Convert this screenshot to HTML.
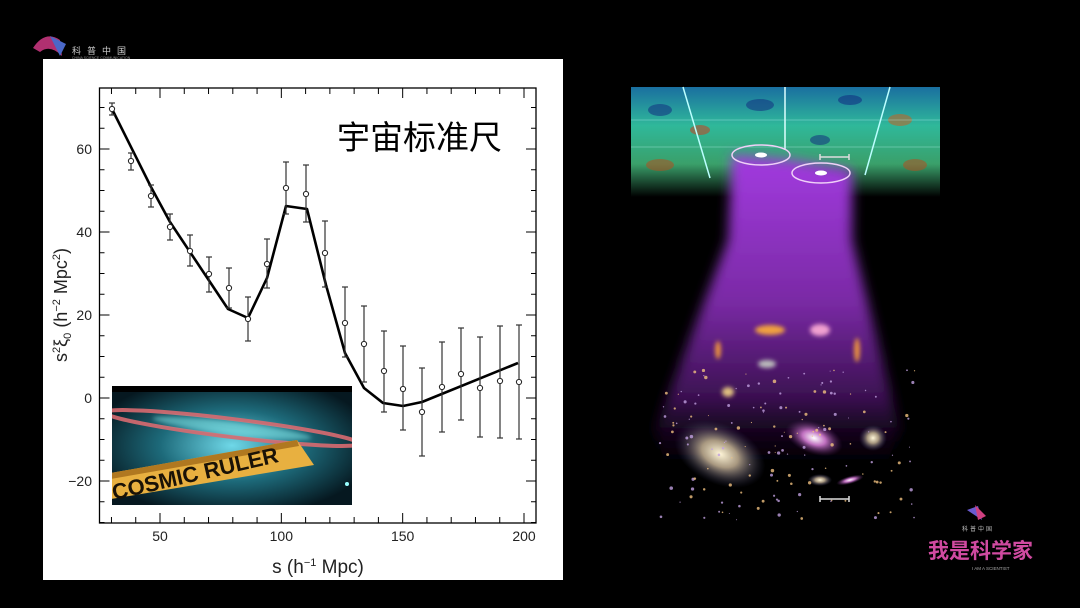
<!DOCTYPE html>
<html><head><meta charset="utf-8"><style>
html,body{margin:0;padding:0;background:#000;width:1080px;height:608px;overflow:hidden}
svg{display:block}
</style></head><body>
<svg id="s" width="1080" height="608" xmlns="http://www.w3.org/2000/svg" font-family="Liberation Sans, DejaVu Sans, sans-serif">
<defs>
<linearGradient id="cmb" x1="0" y1="0" x2="0" y2="1">
<stop offset="0" stop-color="#1a6fa0"/><stop offset="0.35" stop-color="#2fb89a"/><stop offset="0.7" stop-color="#3aa06a"/><stop offset="1" stop-color="#000" stop-opacity="1"/>
</linearGradient>
<linearGradient id="cone" x1="0" y1="0" x2="0" y2="1">
<stop offset="0" stop-color="#a23be0"/><stop offset="0.45" stop-color="#7a2aa5"/><stop offset="0.75" stop-color="#3a1050"/><stop offset="1" stop-color="#000" stop-opacity="0"/>
</linearGradient>
<filter id="bl"><feGaussianBlur stdDeviation="6"/></filter>
<filter id="bl2"><feGaussianBlur stdDeviation="2"/></filter>
<radialGradient id="gal" cx="0.5" cy="0.5" r="0.5"><stop offset="0" stop-color="#fff6d8"/><stop offset="0.4" stop-color="#a89880"/><stop offset="1" stop-color="#30305a" stop-opacity="0"/></radialGradient>
<radialGradient id="gal2" cx="0.5" cy="0.5" r="0.5"><stop offset="0" stop-color="#fff"/><stop offset="0.4" stop-color="#c070c0"/><stop offset="1" stop-color="#502060" stop-opacity="0"/></radialGradient>
<radialGradient id="sb" cx="0.5" cy="0.5" r="0.6"><stop offset="0" stop-color="#6fd8e8"/><stop offset="0.5" stop-color="#1d6a7a"/><stop offset="1" stop-color="#061820"/></radialGradient>
<clipPath id="ic"><rect x="112" y="386" width="240" height="119"/></clipPath>
</defs>
<path d="M33 48 Q45 30 60 40 L62 56 Q50 44 40 52 Z" fill="#b03070"/>
<path d="M50 36 L66 44 L60 56 Z" fill="#4a68c8"/>
<text x="72" y="54" font-size="9" fill="#ccc" font-family="Liberation Sans, Noto Sans CJK SC, sans-serif" letter-spacing="6">科普中国</text>
<text x="72" y="59" font-size="3.5" fill="#999">CHINA SCIENCE COMMUNICATION</text>
<rect x="43" y="59" width="520" height="521" fill="#fff"/>
<g id="plot"></g>
<g clip-path="url(#ic)">
<rect x="112" y="386" width="240" height="119" fill="url(#sb)"/>
<rect x="112" y="386" width="240" height="6" fill="#000"/>
<ellipse cx="232" cy="428" rx="128" ry="9" transform="rotate(7 232 428)" fill="none" stroke="#d86a70" stroke-width="4" opacity="0.9"/>
<ellipse cx="232" cy="428" rx="80" ry="6" transform="rotate(7 232 428)" fill="#8ee" opacity="0.5" filter="url(#bl2)"/>
<polygon points="105,474 297,440 314,465 105,500" fill="#e8b040"/>
<polygon points="105,474 297,440 299,446 105,480" fill="#b07820"/>
<text x="114" y="500" font-size="22" font-weight="bold" fill="#1a1206" transform="rotate(-13 114 500)">COSMIC RULER</text>
<circle cx="347" cy="484" r="2" fill="#9ff"/>
</g>
<text x="337" y="149" font-size="33" fill="#000" font-family="Liberation Sans, Noto Sans CJK SC, sans-serif">宇宙标准尺</text>
<rect x="631" y="87" width="309" height="436" fill="#000"/>
<rect x="631" y="87" width="309" height="110" fill="url(#cmb)"/>
<g opacity="0.55">
<ellipse cx="660" cy="110" rx="12" ry="6" fill="#123080"/><ellipse cx="700" cy="130" rx="10" ry="5" fill="#c84020"/>
<ellipse cx="760" cy="105" rx="14" ry="6" fill="#123080"/><ellipse cx="900" cy="120" rx="12" ry="6" fill="#c86020"/>
<ellipse cx="850" cy="100" rx="12" ry="5" fill="#102a80"/><ellipse cx="660" cy="165" rx="14" ry="6" fill="#b05020"/>
<ellipse cx="915" cy="165" rx="12" ry="6" fill="#b05020"/><ellipse cx="820" cy="140" rx="10" ry="5" fill="#123080"/>
</g>
<line x1="683" y1="87" x2="710" y2="178" stroke="#bff" stroke-width="1.5"/>
<line x1="785" y1="87" x2="785" y2="150" stroke="#dff" stroke-width="1.5"/>
<line x1="890" y1="87" x2="865" y2="175" stroke="#bff" stroke-width="1.5"/>
<line x1="631" y1="120" x2="940" y2="120" stroke="#cff" stroke-width="0.6" opacity="0.6"/>
<line x1="631" y1="147" x2="940" y2="147" stroke="#cff" stroke-width="0.6" opacity="0.6"/>
<polygon points="732,155 790,160 852,170 852,240 900,430 880,480 670,480 655,430 728,240" fill="url(#cone)" filter="url(#bl)"/>
<ellipse cx="761" cy="155" rx="29" ry="10" fill="none" stroke="#f0d0f8" stroke-width="1.5"/>
<ellipse cx="761" cy="155" rx="6" ry="2.5" fill="#fff"/>
<ellipse cx="821" cy="173" rx="29" ry="10" fill="none" stroke="#f0d0f8" stroke-width="1.5"/>
<ellipse cx="821" cy="173" rx="6" ry="2.5" fill="#fff"/>
<path d="M820 157 H849 M820 154 V160 M849 154 V160" stroke="#ddd" stroke-width="1.5"/>
<g filter="url(#bl2)">
<ellipse cx="770" cy="330" rx="15" ry="5" fill="#f0a040"/>
<ellipse cx="820" cy="330" rx="10" ry="6" fill="#f0a0d0"/>
<ellipse cx="857" cy="350" rx="3" ry="12" fill="#e89040"/>
<ellipse cx="718" cy="350" rx="3" ry="9" fill="#e89040"/>
<ellipse cx="767" cy="364" rx="9" ry="4" fill="#bbb"/>
<ellipse cx="728" cy="392" rx="6" ry="5" fill="#e0c080"/>
</g>
<ellipse cx="720" cy="454" rx="48" ry="30" transform="rotate(25 720 454)" fill="url(#gal)"/>
<ellipse cx="814" cy="438" rx="30" ry="16" transform="rotate(20 814 438)" fill="url(#gal2)"/>
<ellipse cx="873" cy="438" rx="14" ry="13" fill="url(#gal)"/>
<ellipse cx="820" cy="480" rx="12" ry="6" fill="url(#gal)"/>
<ellipse cx="850" cy="480" rx="14" ry="4" transform="rotate(-15 850 480)" fill="url(#gal2)"/>
<path d="M820 499 H849 M820 496 V502 M849 496 V502" stroke="#ddd" stroke-width="1.5"/>
<g id="stars"></g>
<path d="M967 510 L978 506 L982 520 Z" fill="#6a5ad0"/><path d="M975 505 L986 516 L978 520 Z" fill="#d04080"/>
<text x="962" y="531" font-size="6" fill="#bbb" font-family="Liberation Sans, Noto Sans CJK SC, sans-serif" letter-spacing="2">科普中国</text>
<text x="928" y="558" font-size="21" font-weight="bold" fill="#d04aa0" font-family="Liberation Sans, Noto Sans CJK SC, sans-serif">我是科学家</text>
<text x="972" y="570" font-size="4.5" fill="#aaa">I AM A SCIENTIST</text>
</svg>
<script>
(function(){
var g=document.getElementById('plot');
function X(s){return 160+(s-50)*2.4267}
function Y(v){return 398-4.15*v}
var h='';
var L=99.5,R=536,T=88,B=523;
h+='<rect x="'+L+'" y="'+T+'" width="'+(R-L)+'" height="'+(B-T)+'" fill="none" stroke="#000" stroke-width="1.3"/>';
for(var s=30;s<=205;s+=10){var x=X(s),len=(s%50==0)?10:6;
h+='<line x1="'+x+'" y1="'+B+'" x2="'+x+'" y2="'+(B-len)+'" stroke="#000"/>';
h+='<line x1="'+x+'" y1="'+T+'" x2="'+x+'" y2="'+(T+len)+'" stroke="#000"/>';}
for(var v=-30;v<=70;v+=5){var y=Y(v),len=(v%20==0)?10:5;
h+='<line x1="'+L+'" y1="'+y+'" x2="'+(L+len)+'" y2="'+y+'" stroke="#000"/>';
h+='<line x1="'+R+'" y1="'+y+'" x2="'+(R-len)+'" y2="'+y+'" stroke="#000"/>';}
[50,100,150,200].forEach(function(s){h+='<text x="'+X(s)+'" y="541" font-size="14" text-anchor="middle" fill="#222">'+s+'</text>';});
[60,40,20,0,-20].forEach(function(v){h+='<text x="92" y="'+(Y(v)+5)+'" font-size="14" text-anchor="end" fill="#222">'+(v<0?'\u221220':v)+'</text>';});
h+='<text x="318" y="573" font-size="19" text-anchor="middle" fill="#222">s (h<tspan font-size="11" dy="-7">\u22121</tspan><tspan dy="7"> Mpc)</tspan></text>';
h+='<text transform="translate(67 305) rotate(-90)" font-size="18" text-anchor="middle" fill="#222">s<tspan font-size="11" dy="-7">2</tspan><tspan dy="7">\u03be</tspan><tspan font-size="11" dy="4">0</tspan><tspan dy="-4"> (h</tspan><tspan font-size="11" dy="-7">\u22122</tspan><tspan dy="7"> Mpc</tspan><tspan font-size="11" dy="-7">2</tspan><tspan dy="7">)</tspan></text>';
var line=[[112,109],[151,187],[170,222],[228,309],[248,318],[267,278],[286,206],[307,209],[326,285],[345,353],[364,388],[383,403],[403,406],[422,402],[518,363]];
h+='<polyline points="'+line.map(function(p){return p.join(',')}).join(' ')+'" fill="none" stroke="#000" stroke-width="2.6" stroke-linejoin="round"/>';
var d=[[112,109,103,115],[131,161,153,170],[151,196,185,207],[170,227,214,240],[190,251,235,266],[209,274,257,292],[229,288,268,308],[248,319,297,341],[267,264,239,288],[286,188,162,214],[306,194,165,222],[325,253,221,287],[345,323,287,357],[364,344,306,382],[384,371,331,412],[403,389,346,430],[422,412,368,456],[442,387,342,432],[461,374,328,420],[480,388,337,437],[500,381,326,438],[519,382,325,439]];
d.forEach(function(p){h+='<line x1="'+p[0]+'" y1="'+p[2]+'" x2="'+p[0]+'" y2="'+p[3]+'" stroke="#333" stroke-width="1.2"/>';
h+='<line x1="'+(p[0]-3)+'" y1="'+p[2]+'" x2="'+(p[0]+3)+'" y2="'+p[2]+'" stroke="#333" stroke-width="1.2"/>';
h+='<line x1="'+(p[0]-3)+'" y1="'+p[3]+'" x2="'+(p[0]+3)+'" y2="'+p[3]+'" stroke="#333" stroke-width="1.2"/>';
h+='<circle cx="'+p[0]+'" cy="'+p[1]+'" r="2.6" fill="#fff" stroke="#222" stroke-width="1"/>';});
g.innerHTML=h;
var st='',seed=7;function r(){seed=(seed*9301+49297)%233280;return seed/233280}
for(var i=0;i<160;i++){var x=660+r()*260,y=370+r()*150;st+='<circle cx="'+x+'" cy="'+y+'" r="'+(0.5+r()*1.3)+'" fill="'+(r()>0.5?'#f0c080':'#c0a0e0')+'" opacity="0.8"/>';}
document.getElementById('stars').innerHTML=st;
})();
</script>
</body></html>
